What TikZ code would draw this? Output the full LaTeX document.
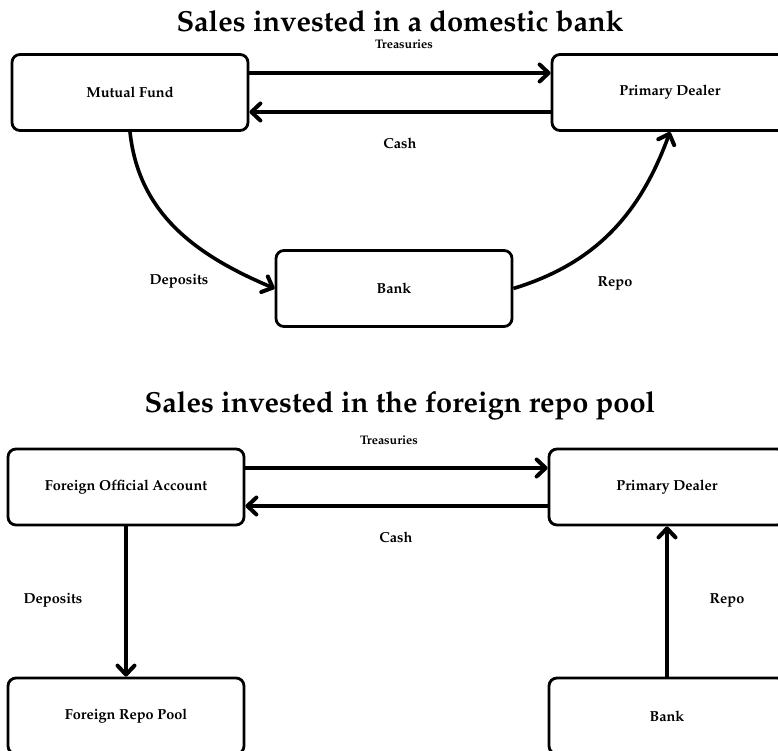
\documentclass[tikz,border=0pt]{standalone}
\usepackage[T1]{fontenc}
\usepackage{mathpazo}
\usetikzlibrary{arrows.meta}

\begin{document}
\begin{tikzpicture}[x=1pt, y=-1pt,
    box/.style = {draw, line width=2.8pt, rounded corners=8pt,
        minimum width=236pt, minimum height=76pt,
        font=\fontsize{14.5}{17}\selectfont\bfseries},
    flow/.style = {line width=3.6pt,
        -{Straight Barb[length=9pt, width=17pt, line width=4pt, round]}},
    lbl/.style = {font=\fontsize{14.5}{17}\selectfont\bfseries},
    small/.style = {font=\fontsize{12.4}{15}\selectfont\bfseries},
    heading/.style = {anchor=base, font=\fontsize{29}{34}\selectfont\bfseries}]
    \useasboundingbox (0,0) rectangle (778,751);

    % Sales invested in a domestic bank
    \node[heading] (title1) at (400,32) {Sales invested in a domestic bank};
    \node[box] (fund) at (130,92.5) {Mutual Fund};
    \node[box] (dealer) at (670,92.5) {Primary Dealer};
    \node[box] (bank) at (394,288.5) {Bank};

    \draw[flow] ([yshift=19.5pt]fund.east) -- ([yshift=19.5pt]dealer.west);
    \draw[flow] ([yshift=-19.5pt]dealer.west) -- ([yshift=-19.5pt]fund.east);
    \draw[flow] (fund.south) to[out=-84, in=157] (bank.west);
    \draw[flow] (bank.east) to[out=17, in=-110] (dealer.south);

    \node[small] (treas1) at (404,44) {Treasuries};
    \node[lbl] (cash1) at (400,143) {Cash};
    \node[lbl] (dep1) at (179,281) {Deposits};
    \node[lbl] (repo1) at (615,283) {Repo};

    % Sales invested in the foreign repo pool
    \node[heading] (title2) at (400,412) {Sales invested in the foreign repo pool};
    \node[box] (official) at (126,487) {Foreign Official Account};
    \node[box] (dealer2) at (667,487) {Primary Dealer};
    \node[box] (pool) at (126,716) {Foreign Repo Pool};
    \node[box] (bank2) at (667,716) {Bank};

    \draw[flow] ([yshift=19pt]official.east) -- ([yshift=19pt]dealer2.west);
    \draw[flow] ([yshift=-19pt]dealer2.west) -- ([yshift=-19pt]official.east);
    \draw[flow] (official.south) -- (pool.north);
    \draw[flow] (bank2.north) -- (dealer2.south);

    \node[small] (treas2) at (389,440) {Treasuries};
    \node[lbl] (cash2) at (396,537) {Cash};
    \node[lbl] (dep2) at (53,600) {Deposits};
    \node[lbl] (repo2) at (727,600) {Repo};
\end{tikzpicture}
\end{document}
